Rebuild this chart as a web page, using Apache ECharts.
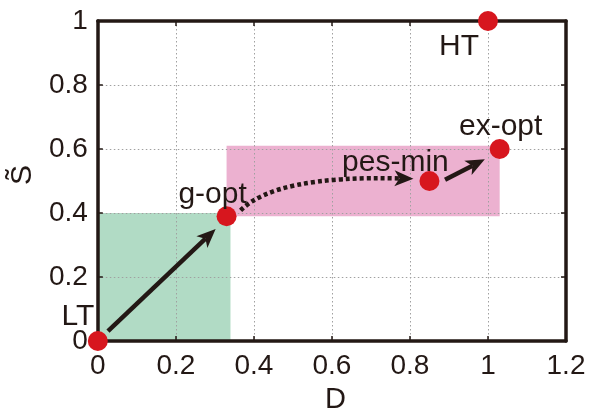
<!DOCTYPE html>
<html>
<head>
<meta charset="utf-8">
<script src="https://cdn.jsdelivr.net/npm/echarts@6/dist/echarts.min.js"></script>
<style>
  html, body { margin: 0; padding: 0; background: #fff; }
  #chart { width: 591px; height: 419px; }
</style>
</head>
<body>
<div id="chart"></div>
<script>
// Operating points in the (D, S~) plane
const pointNames = ['LT', 'g-opt', 'pes-min', 'ex-opt', 'HT'];
const pointD = [0, 0.33, 0.85, 1.03, 1.0];
const pointS = [0, 0.39, 0.5, 0.6, 1.0];

// Shaded regions: [D from, D to, S from, S to]
const greenRegion = [0, 0.34, 0, 0.4];
const pinkRegion = [0.33, 1.03, 0.39, 0.61];

// Transitions between points: start, tip, optional bezier control
const arrowStart = [[0.026, 0.031], [0.366, 0.408], [0.89, 0.504]];
const arrowTip = [[0.302, 0.35], [0.809, 0.507], [0.992, 0.568]];
const arrowCtrl = [null, [0.455, 0.518], null];
const arrowDotted = [false, true, false];

// Axis ticks
const xTicks = { min: 0, max: 1.2, step: 0.2 };
const yTicks = { min: 0, max: 1, step: 0.2 };

const INK = '#231815';
const FONT = '"Liberation Sans", Arial, Helvetica, sans-serif';

// Label placement relative to each point
const labelOffset = {
  'LT': [-20, -24],
  'g-opt': [-14, -21],
  'pes-min': [-34, -18],
  'ex-opt': [1, -22],
  'HT': [-29, 26]
};

const chart = echarts.init(document.getElementById('chart'), null, { renderer: 'canvas' });

const regionData = [
  { value: greenRegion, itemStyle: { color: '#b1dbc5' } },
  { value: pinkRegion, itemStyle: { color: '#ecb1d0' } }
];

const arrowData = arrowStart.map((s, i) => ({
  value: [s[0], s[1], arrowTip[i][0], arrowTip[i][1]],
  ctrl: arrowCtrl[i],
  dotted: arrowDotted[i]
}));

const scatterData = pointNames.map((n, i) => ({
  name: n,
  value: [pointD[i], pointS[i]],
  label: { offset: labelOffset[n] }
}));

function axisBase(extra) {
  return Object.assign({
    type: 'value',
    z: 1,
    axisLine: { show: true, onZero: false, lineStyle: { color: INK, width: 3.5 } },
    axisTick: { show: true, inside: true, length: 5, lineStyle: { color: INK, width: 1.5 } },
    splitLine: { show: false },
    axisLabel: { show: false }
  }, extra);
}

const option = {
  animation: false,
  backgroundColor: '#fff',
  grid: { left: 97, right: 25, top: 21, bottom: 72, containLabel: false },
  xAxis: [
    axisBase({
      position: 'bottom',
      min: xTicks.min, max: xTicks.max, interval: xTicks.step,
      name: 'D', nameLocation: 'middle', nameGap: 44,
      nameTextStyle: { color: INK, fontSize: 29, fontFamily: FONT, padding: [0, 0, 0, 7] },
      axisLabel: { show: true, color: INK, fontSize: 28, fontFamily: FONT, margin: 11 },
      splitLine: { show: true, lineStyle: { color: '#a0a0a0', width: 1, type: [1.5, 2.5] } }
    }),
    axisBase({ position: 'top', min: xTicks.min, max: xTicks.max, interval: xTicks.step })
  ],
  yAxis: [
    axisBase({
      position: 'left',
      min: yTicks.min, max: yTicks.max, interval: yTicks.step,
      name: 'S\u0303', nameLocation: 'middle', nameGap: 54, nameRotate: 90,
      nameTextStyle: { color: INK, fontSize: 30, fontFamily: FONT, padding: [0, 0, 0, 12] },
      axisLabel: { show: true, color: INK, fontSize: 28, fontFamily: FONT, margin: 10 },
      splitLine: { show: true, lineStyle: { color: '#a0a0a0', width: 1, type: [1.5, 2.5] } }
    }),
    axisBase({ position: 'right', min: yTicks.min, max: yTicks.max, interval: yTicks.step })
  ],
  series: [
    {
      type: 'custom',
      z: 0,
      silent: true,
      data: regionData,
      renderItem: function (params, api) {
        const p0 = api.coord([api.value(0), api.value(3)]);
        const p1 = api.coord([api.value(1), api.value(2)]);
        return {
          type: 'rect',
          shape: { x: p0[0], y: p0[1], width: p1[0] - p0[0], height: p1[1] - p0[1] },
          style: { fill: api.visual('color') }
        };
      }
    },
    {
      type: 'custom',
      z: 4,
      silent: true,
      data: arrowData,
      renderItem: function (params, api) {
        const item = arrowData[params.dataIndex];
        const a = api.coord([api.value(0), api.value(1)]);
        const b = api.coord([api.value(2), api.value(3)]);
        let dir;
        const headLen = 19, halfW = 8, notch = 5;
        let shaft;
        if (item.ctrl) {
          const c = api.coord(item.ctrl);
          dir = [b[0] - c[0], b[1] - c[1]];
          const L = Math.hypot(dir[0], dir[1]);
          const u = [dir[0] / L, dir[1] / L];
          const end = [b[0] - u[0] * (headLen - notch), b[1] - u[1] * (headLen - notch)];
          shaft = {
            type: 'bezierCurve',
            shape: { x1: a[0], y1: a[1], cpx1: c[0], cpy1: c[1], x2: end[0], y2: end[1] },
            style: { stroke: INK, lineWidth: 4.5, fill: null, lineDash: item.dotted ? [4, 3] : null }
          };
        } else {
          dir = [b[0] - a[0], b[1] - a[1]];
        }
        const L = Math.hypot(dir[0], dir[1]);
        const u = [dir[0] / L, dir[1] / L];
        const n = [-u[1], u[0]];
        const base = [b[0] - u[0] * headLen, b[1] - u[1] * headLen];
        const inner = [b[0] - u[0] * (headLen - notch), b[1] - u[1] * (headLen - notch)];
        if (!shaft) {
          shaft = {
            type: 'line',
            shape: { x1: a[0], y1: a[1], x2: inner[0], y2: inner[1] },
            style: { stroke: INK, lineWidth: 4.5, lineDash: item.dotted ? [4, 3] : null }
          };
        }
        const head = {
          type: 'polygon',
          shape: {
            points: [
              b,
              [base[0] + n[0] * halfW, base[1] + n[1] * halfW],
              inner,
              [base[0] - n[0] * halfW, base[1] - n[1] * halfW]
            ]
          },
          style: { fill: INK }
        };
        return { type: 'group', children: [shaft, head] };
      }
    },
    {
      type: 'scatter',
      z: 5,
      symbol: 'circle',
      symbolSize: 20,
      itemStyle: { color: '#d7161e', opacity: 1 },
      emphasis: { disabled: true },
      data: scatterData,
      label: {
        show: true,
        position: 'inside',
        formatter: '{b}',
        color: INK,
        opacity: 1,
        textBorderWidth: 0,
        fontSize: 30,
        fontFamily: FONT
      }
    }
  ]
};

chart.setOption(option);
</script>
</body>
</html>
